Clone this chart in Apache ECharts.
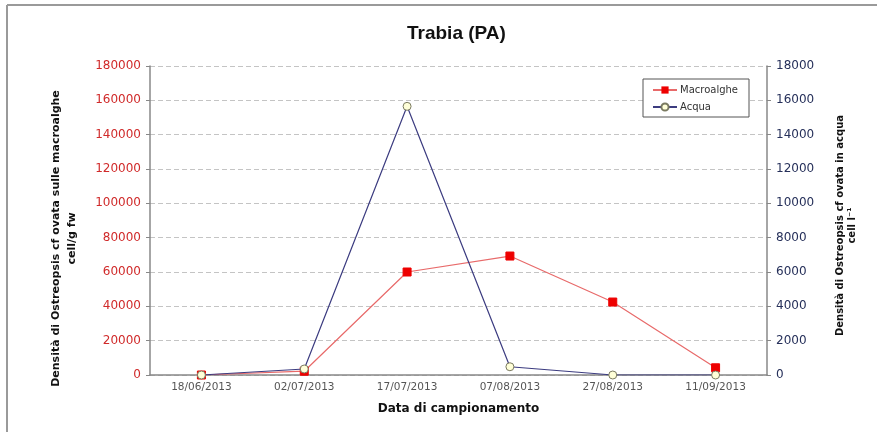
<!DOCTYPE html>
<html><head><meta charset="utf-8">
<script src="https://cdn.jsdelivr.net/npm/echarts@6/dist/echarts.min.js"></script>
<style>html,body{margin:0;padding:0;background:#fff}#c{width:877px;height:432px}</style>
</head><body><div id="c"></div>
<script>
const categories = ['18/06/2013','02/07/2013','17/07/2013','07/08/2013','27/08/2013','11/09/2013'];
const macroalghe = [0, 2200, 60000, 69300, 42500, 4200];
const acqua = [0, 350, 15650, 480, 0, 0];
const leftTicks = [0, 20000, 180000];
const rightTicks = [0, 2000, 18000];

const FONT = 'DejaVu Sans';
const chart = echarts.init(document.getElementById('c'));
chart.setOption({
  animation: false,
  backgroundColor: '#fff',
  title: { text: 'Trabia (PA)', left: 402, top: 19,
    textStyle: { fontFamily: 'Liberation Sans', fontWeight: 'bold', fontSize: 19, color: '#111' } },
  graphic: [
    { type: 'line', shape: { x1: 7, y1: 5, x2: 877, y2: 5 }, style: { stroke: '#9a9a9a', lineWidth: 2 } },
    { type: 'line', shape: { x1: 7, y1: 5, x2: 7, y2: 432 }, style: { stroke: '#9a9a9a', lineWidth: 2 } }
  ],
  legend: {
    left: 643, top: 79, orient: 'vertical', itemGap: 7, itemWidth: 24, itemHeight: 9,
    padding: [6, 11, 5, 9],
    borderColor: '#555', borderWidth: 1, backgroundColor: '#fff', borderRadius: 0,
    textStyle: { fontFamily: FONT, fontSize: 10, color: '#333', padding: [0, 0, 0, -2] },
    data: ['Macroalghe', 'Acqua']
  },
  grid: { left: 150, right: 110, top: 66, bottom: 57 },
  xAxis: {
    type: 'category', data: categories, boundaryGap: true,
    name: 'Data di campionamento', nameLocation: 'middle', nameGap: 28,
    nameTextStyle: { fontFamily: FONT, fontWeight: 'bold', fontSize: 12, color: '#111' },
    axisLine: { lineStyle: { color: '#888', width: 1.5 } },
    axisTick: { show: false },
    axisLabel: { fontFamily: FONT, fontSize: 10.5, color: '#555', margin: 7 }
  },
  yAxis: [
    { type: 'value', min: leftTicks[0], max: leftTicks[2], interval: leftTicks[1],
      name: 'Densità di Ostreopsis cf ovata sulle macroalghe\ncell/g fw',
      nameLocation: 'middle', nameGap: 70, nameRotate: 90,
      nameTextStyle: { fontFamily: FONT, fontWeight: 'bold', fontSize: 11, color: '#111', lineHeight: 16, padding: [0, 36, 0, 0] },
      axisLine: { show: true, lineStyle: { color: '#888', width: 1.5 } },
      axisTick: { show: true, length: 4, lineStyle: { color: '#888' } },
      axisLabel: { fontFamily: FONT, fontSize: 12, color: '#d02a2a', margin: 9, formatter: v => String(v) },
      splitLine: { show: true, lineStyle: { color: '#c4c4c4', type: [5, 3], width: 1 } }
    },
    { type: 'value', min: rightTicks[0], max: rightTicks[2], interval: rightTicks[1],
      name: 'Densità di Ostreopsis cf ovata in acqua\ncell l⁻¹',
      nameLocation: 'middle', nameGap: 67, nameRotate: 90,
      nameTextStyle: { fontFamily: FONT, fontWeight: 'bold', fontSize: 10, color: '#111', lineHeight: 12, padding: [0, 10, 0, 0] },
      axisLine: { show: true, lineStyle: { color: '#888', width: 1.5 } },
      axisTick: { show: true, length: 4, lineStyle: { color: '#888' } },
      axisLabel: { fontFamily: FONT, fontSize: 12, color: '#26305a', margin: 9, formatter: v => String(v) },
      splitLine: { show: false }
    }
  ],
  series: [
    { name: 'Macroalghe', type: 'line', yAxisIndex: 0, data: macroalghe,
      symbol: 'rect', symbolSize: 8, z: 2,
      lineStyle: { color: '#e86a6a', width: 1.2 },
      itemStyle: { color: '#ee0000', borderColor: '#ee0000' } },
    { name: 'Acqua', type: 'line', yAxisIndex: 1, data: acqua,
      symbol: 'circle', symbolSize: 8, z: 3,
      lineStyle: { color: '#3c3c80', width: 1.2 },
      itemStyle: { color: '#ffffd8', borderColor: '#7a7a60', borderWidth: 1 } }
  ]
});
</script></body></html>
